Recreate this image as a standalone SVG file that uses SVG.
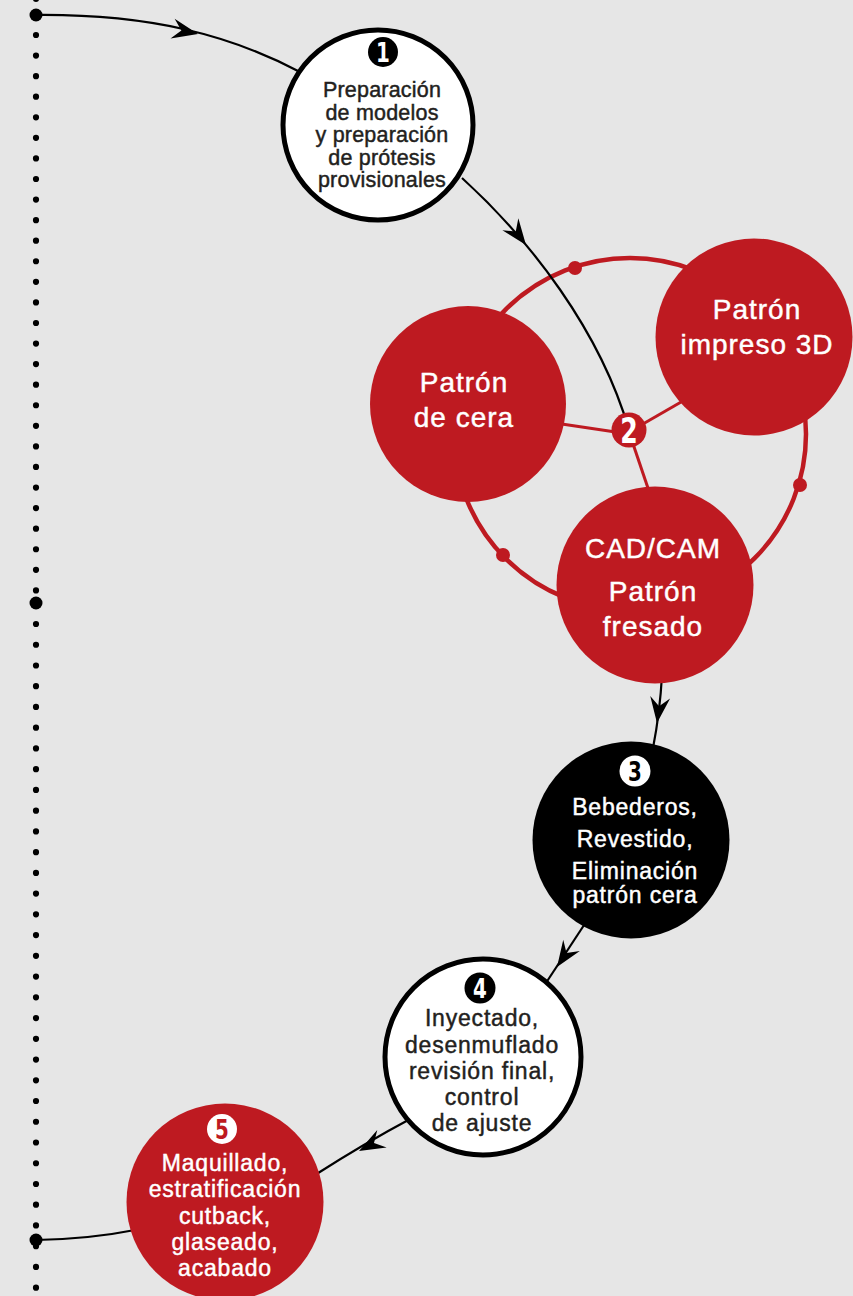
<svg xmlns="http://www.w3.org/2000/svg" xmlns:xlink="http://www.w3.org/1999/xlink" width="853" height="1296" viewBox="0 0 853 1296">
<style>
.conn{fill:none;stroke:#000;stroke-width:2.2}
.ring{fill:none;stroke:#BE1A21;stroke-width:4.5}
.spoke{fill:none;stroke:#BE1A21;stroke-width:3}
.red{fill:#BE1A21}
.wnode{fill:#fff;stroke:#000;stroke-width:5}
.lbl{font-family:"Liberation Sans",Arial,Helvetica,sans-serif;text-anchor:middle;stroke-width:0.45px}
.dark{fill:#231f20;stroke:#231f20;font-size:21.5px;letter-spacing:0.2px}
.wt{fill:#fff;stroke:#fff;font-size:23px;letter-spacing:0.8px}
.dk{fill:#231f20;stroke:#231f20;font-size:23px;letter-spacing:0.8px}
.big{fill:#fff;stroke:#fff;font-size:28px;letter-spacing:1px}
.num{font-family:"Liberation Sans Narrow","DejaVu Sans Condensed","Liberation Sans",sans-serif;font-weight:bold;text-anchor:middle;font-size:26px}
.dots{fill:none;stroke:#000;stroke-width:6.2;stroke-linecap:round}
</style>
<defs>
<path id="ah" d="M0,0 L-26,-10 L-17,0 L-26,10 Z" fill="#000"/>
</defs>
<rect width="853" height="1296" fill="#e6e6e6"/>
<g id="timeline">
<line class="dots" x1="36" y1="35" x2="36" y2="591" stroke-dasharray="0 20.57"/>
<line class="dots" x1="36" y1="624" x2="36" y2="1289" stroke-dasharray="0 20.74"/>
<circle cx="36" cy="-1" r="3.1"/>
<circle cx="36" cy="15" r="6.5"/>
<circle cx="36" cy="603" r="6.5"/>
<circle cx="36" cy="1240" r="6.5"/>
</g>
<g id="cluster-links">
<circle class="ring" cx="630" cy="434" r="176"/>
<circle class="red" cx="575" cy="268" r="7"/>
<circle class="red" cx="800" cy="485" r="7"/>
<circle class="red" cx="503" cy="555" r="7"/>
<line class="spoke" x1="629" y1="434" x2="555" y2="423"/>
<line class="spoke" x1="629" y1="432" x2="695" y2="394"/>
<line class="spoke" x1="629" y1="432" x2="652" y2="500"/>
</g>
<g id="connectors">
<path class="conn" d="M36,15 C150,14 230,35 300,72"/>
<use href="#ah" transform="translate(198,34) rotate(12)"/>
<path class="conn" d="M462,178 C530,240 600,330 629,430"/>
<use href="#ah" transform="translate(526,245) rotate(53)"/>
<path class="conn" d="M662,675 Q660,712 653,748"/>
<use href="#ah" transform="translate(657,723) rotate(97)"/>
<path class="conn" d="M590,916 L540,992"/>
<use href="#ah" transform="translate(557,967) rotate(124)"/>
<path class="conn" d="M412,1118 Q365,1143 315,1175"/>
<use href="#ah" transform="translate(359,1151) rotate(152)"/>
<path class="conn" d="M36,1240 Q90,1239 135,1230"/>
</g>
<g id="node1">
<circle class="wnode" cx="378" cy="125" r="95"/>
<circle cx="383" cy="52" r="15" fill="#000"/>
<text class="num" fill="#fff" transform="translate(383,61.5) scale(0.85,1)">1</text>
<text class="lbl dark" x="382" y="97">Preparación</text>
<text class="lbl dark" x="382" y="119.5">de modelos</text>
<text class="lbl dark" x="382" y="142">y preparación</text>
<text class="lbl dark" x="382" y="164.5">de prótesis</text>
<text class="lbl dark" x="382" y="187">provisionales</text>
</g>
<g id="node2a">
<circle class="red" cx="468" cy="404" r="98"/>
<text class="lbl big" x="464" y="392">Patrón</text>
<text class="lbl big" x="464" y="427">de cera</text>
</g>
<g id="node2b">
<circle class="red" cx="754" cy="337" r="98.5"/>
<text class="lbl big" x="757" y="319">Patrón</text>
<text class="lbl big" x="757" y="354">impreso 3D</text>
</g>
<g id="node2c">
<circle class="red" cx="655" cy="585" r="98.5"/>
<text class="lbl big" x="653" y="558">CAD/CAM</text>
<text class="lbl big" x="653" y="601">Patrón</text>
<text class="lbl big" x="653" y="636">fresado</text>
</g>
<g id="node2">
<circle class="red" cx="629" cy="430" r="17.5"/>
<text class="num" fill="#fff" style="font-size:35px" transform="translate(629,442.5) scale(0.8,1)">2</text>
</g>
<g id="node3">
<circle cx="631" cy="840" r="98.5" fill="#000"/>
<circle cx="635" cy="771" r="15.5" fill="#fff"/>
<text class="num" fill="#000" transform="translate(635,780.5) scale(0.85,1)">3</text>
<text class="lbl wt" x="635" y="815">Bebederos,</text>
<text class="lbl wt" x="635" y="847">Revestido,</text>
<text class="lbl wt" x="635" y="879">Eliminación</text>
<text class="lbl wt" x="635" y="903">patrón cera</text>
</g>
<g id="node4">
<circle class="wnode" cx="483" cy="1057" r="98"/>
<circle cx="480" cy="988" r="15.5" fill="#000"/>
<text class="num" fill="#fff" transform="translate(480,997.5) scale(0.85,1)">4</text>
<text class="lbl dk" x="482" y="1026">Inyectado,</text>
<text class="lbl dk" x="482" y="1052.5">desenmuflado</text>
<text class="lbl dk" x="482" y="1079">revisión final,</text>
<text class="lbl dk" x="482" y="1105">control</text>
<text class="lbl dk" x="482" y="1130.5">de ajuste</text>
</g>
<g id="node5">
<circle class="red" cx="225" cy="1202" r="98.5"/>
<circle cx="222" cy="1129" r="15" fill="#fff"/>
<text class="num" fill="#BE1A21" transform="translate(222,1138.5) scale(0.85,1)">5</text>
<text class="lbl wt" x="225" y="1171">Maquillado,</text>
<text class="lbl wt" x="225" y="1197">estratificación</text>
<text class="lbl wt" x="225" y="1223.5">cutback,</text>
<text class="lbl wt" x="225" y="1249.5">glaseado,</text>
<text class="lbl wt" x="225" y="1275.5">acabado</text>
</g>
</svg>
